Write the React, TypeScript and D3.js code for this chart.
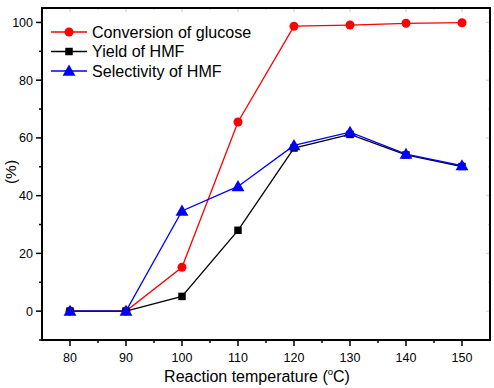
import React, { useRef, useEffect } from "react";
import * as d3 from "d3";

const temperatures = [80, 90, 100, 110, 120, 130, 140, 150];
const conversion = [0, 0, 15.2, 65.5, 98.7, 99.1, 99.7, 99.9];
const yieldHMF = [0, 0, 5.1, 28.0, 56.5, 61.2, 54.1, 50.1];
const selectivity = [0, 0, 34.7, 43.2, 57.4, 62.0, 54.4, 50.4];
const xTicks = [80, 90, 100, 110, 120, 130, 140, 150];
const yTicks = [0, 20, 40, 60, 80, 100];

const series = [
  { name: "Conversion of glucose", values: conversion, color: "#ff0000", shape: "circle" },
  { name: "Yield of HMF", values: yieldHMF, color: "#000000", shape: "square" },
  { name: "Selectivity of HMF", values: selectivity, color: "#0000ff", shape: "triangle" },
];

export default function App() {
  const ref = useRef<SVGSVGElement>(null);

  useEffect(() => {
    const width = 494, height = 388;
    const m = { left: 42, top: 8, right: 4, bottom: 48 };
    const font = "Arial, 'Liberation Sans', sans-serif";

    const svg = d3.select(ref.current);
    svg.selectAll("*").remove();
    svg.attr("width", width).attr("height", height);
    svg.append("rect").attr("width", width).attr("height", height).attr("fill", "#fff");

    const x = d3.scaleLinear().domain([75, 155]).range([m.left, width - m.right]);
    const y = d3.scaleLinear().domain([-10, 105]).range([height - m.bottom, m.top]);

    const x0 = x.range()[0], x1 = x.range()[1];
    const y0 = y.range()[0], y1 = y.range()[1];

    // faint inner ticks on top and right edges
    const faint = svg.append("g").attr("stroke", "#ccc").attr("stroke-width", 1);
    d3.range(80, 155, 5).forEach(v => {
      faint.append("line").attr("x1", x(v)).attr("x2", x(v)).attr("y1", y1).attr("y2", y1 + (v % 10 === 0 ? 4 : 2));
    });
    d3.range(-10, 105, 10).forEach(v => {
      faint.append("line").attr("y1", y(v)).attr("y2", y(v)).attr("x1", x1).attr("x2", x1 - (v % 20 === 0 ? 4 : 2));
    });

    // outward ticks on bottom and left
    const axes = svg.append("g").attr("stroke", "#000").attr("stroke-width", 1.5);
    d3.range(80, 155, 5).forEach(v => {
      axes.append("line").attr("x1", x(v)).attr("x2", x(v)).attr("y1", y0).attr("y2", y0 + (v % 10 === 0 ? 6 : 3));
    });
    d3.range(-10, 105, 10).forEach(v => {
      axes.append("line").attr("y1", y(v)).attr("y2", y(v)).attr("x1", x0).attr("x2", x0 - (v % 20 === 0 ? 6 : 3));
    });

    svg.append("g").selectAll("text").data(xTicks).enter().append("text")
      .attr("x", d => x(d)).attr("y", y0 + 22)
      .attr("text-anchor", "middle").attr("font-family", font).attr("font-size", 12.5)
      .text(d => d);

    svg.append("g").selectAll("text").data(yTicks).enter().append("text")
      .attr("x", x0 - 9).attr("y", d => y(d) + 4.5)
      .attr("text-anchor", "end").attr("font-family", font).attr("font-size", 12.5)
      .text(d => d);

    const xt = svg.append("text").attr("x", 257).attr("y", 382)
      .attr("text-anchor", "middle").attr("font-family", font).attr("font-size", 16);
    xt.append("tspan").text("Reaction temperature (");
    xt.append("tspan").attr("font-size", 9.5).attr("dy", -7).text("o");
    xt.append("tspan").attr("dy", 7).text("C)");

    svg.append("text").attr("transform", `translate(16,172) rotate(-90)`)
      .attr("text-anchor", "middle").attr("font-family", font).attr("font-size", 15.5)
      .text("(%)");

    const symbolFor = (shape: string) =>
      shape === "circle" ? d3.symbol(d3.symbolCircle, 64)
        : shape === "square" ? d3.symbol(d3.symbolSquare, 56)
          : d3.symbol(d3.symbolTriangle, 72);

    const line = d3.line<number>().x((_, i) => x(temperatures[i])).y(d => y(d));

    series.forEach(s => {
      const g = svg.append("g");
      g.append("path").attr("d", line(s.values)).attr("fill", "none")
        .attr("stroke", s.color).attr("stroke-width", 1.3);
      g.selectAll("path.pt").data(s.values).enter().append("path").attr("class", "pt")
        .attr("transform", (d, i) => `translate(${x(temperatures[i])},${y(d) + (s.shape === "triangle" ? 1 : 0)})`)
        .attr("d", symbolFor(s.shape)()).attr("fill", s.color);
    });

    // legend
    const legend = svg.append("g");
    series.forEach((s, i) => {
      const ly = 32 + i * 19.5;
      legend.append("line").attr("x1", 51).attr("x2", 87).attr("y1", ly).attr("y2", ly)
        .attr("stroke", s.color).attr("stroke-width", 1.3);
      legend.append("path").attr("transform", `translate(69,${ly + (s.shape === "triangle" ? 1 : 0)})`)
        .attr("d", symbolFor(s.shape)()).attr("fill", s.color);
      legend.append("text").attr("x", 92).attr("y", ly + 5.5)
        .attr("font-family", font).attr("font-size", 16.1).text(s.name);
    });

    // frame
    svg.append("rect").attr("x", x0).attr("y", y1).attr("width", x1 - x0).attr("height", y0 - y1)
      .attr("fill", "none").attr("stroke", "#000").attr("stroke-width", 2);
  }, []);

  return <svg ref={ref} style={{ position: "absolute", left: 0, top: 0 }}></svg>;
}
